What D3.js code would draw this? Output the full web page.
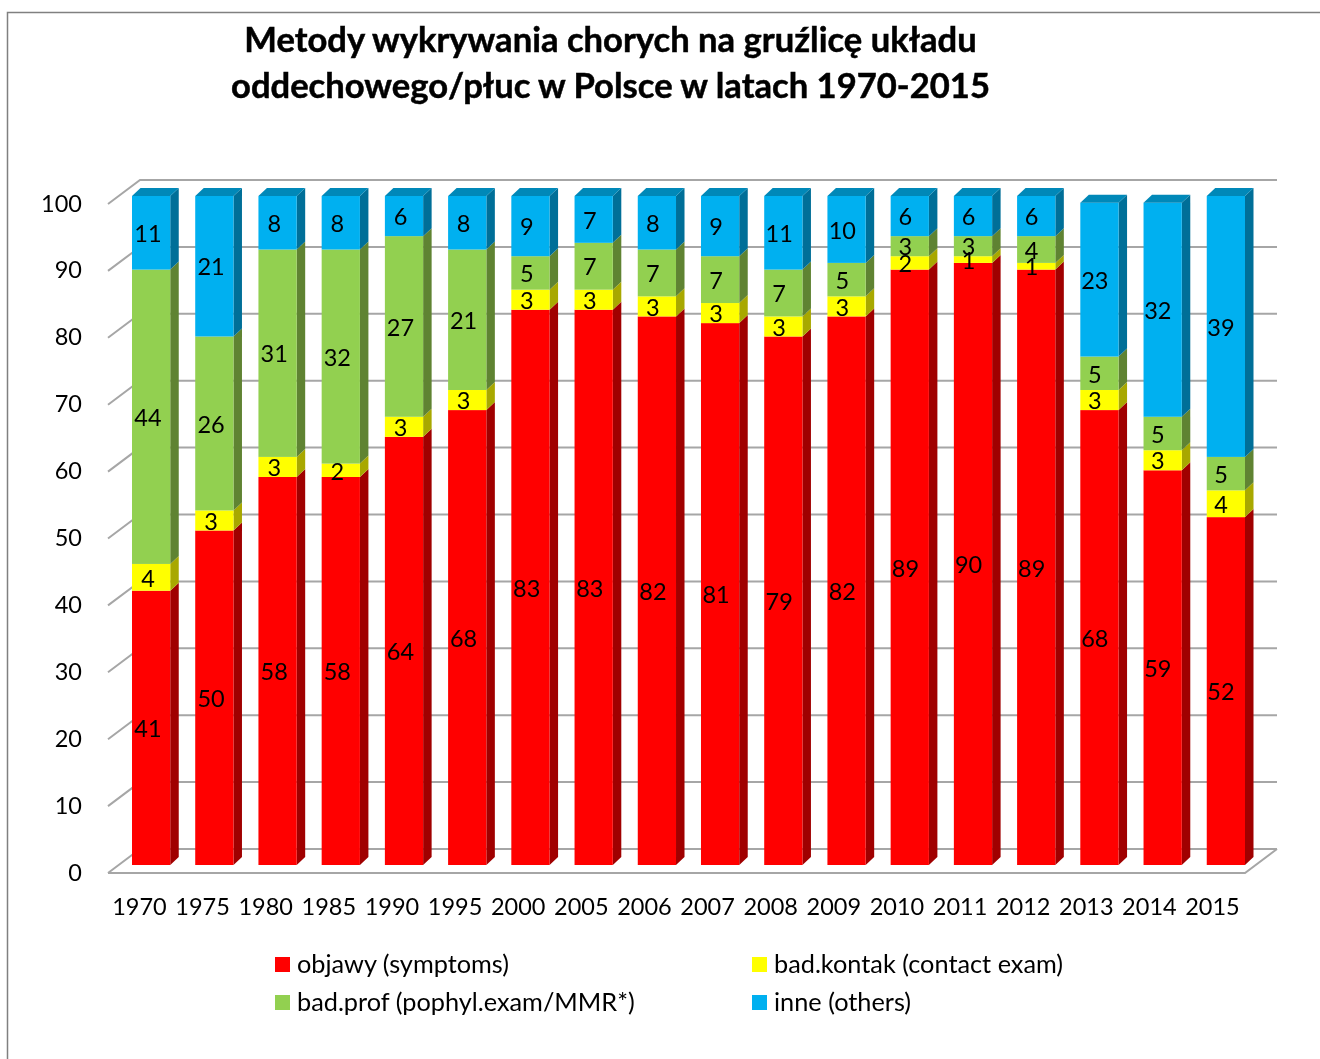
<!DOCTYPE html>
<html>
<head>
<meta charset="utf-8">
<script src="https://cdn.jsdelivr.net/npm/d3@7"></script>
<style>
  html, body { margin: 0; padding: 0; background: #fff; overflow: hidden; }
  svg { filter: blur(0.45px); }
  text { font-family: Lato, "Open Sans", sans-serif; fill: #000; }
</style>
</head>
<body>
<div id="chart"></div>
<script>
// Values
const years = ["1970", "1975", "1980", "1985", "1990", "1995", "2000", "2005", "2006", "2007", "2008", "2009", "2010", "2011", "2012", "2013", "2014", "2015"];
const objawy = [41, 50, 58, 58, 64, 68, 83, 83, 82, 81, 79, 82, 89, 90, 89, 68, 59, 52];
const kontakt = [4, 3, 3, 2, 3, 3, 3, 3, 3, 3, 3, 3, 2, 1, 1, 3, 3, 4];
const prof = [44, 26, 31, 32, 27, 21, 5, 7, 7, 7, 7, 5, 3, 3, 4, 5, 5, 5];
const inne = [11, 21, 8, 8, 6, 8, 9, 7, 8, 9, 11, 10, 6, 6, 6, 23, 32, 39];
const seriesKeys = ["objawy", "kontakt", "prof", "inne"];
const seriesNames = ["objawy (symptoms)", "bad.kontak (contact exam)", "bad.prof (pophyl.exam/MMR*)", "inne (others)"];
const yTicks = [0, 10, 20, 30, 40, 50, 60, 70, 80, 90, 100];
const titleLines = ["Metody wykrywania chorych na gruźlicę układu", "oddechowego/płuc w Polsce w latach 1970-2015"];

const width = 1320, height = 1059;

// front, side and top colours of each series
const colors = {
    objawy: { front: "#ff0000", side: "#a00000", top: "#c00000" },
    kontakt: { front: "#ffff00", side: "#a8a800", top: "#c8c800" },
    prof: { front: "#92d050", side: "#5f8332", top: "#74a53f" },
    inne: { front: "#00b0f0", side: "#006f98", top: "#0088b8" }
};

const rows = years.map((year, i) => ({
    year: year,
    objawy: objawy[i],
    kontakt: kontakt[i],
    prof: prof[i],
    inne: inne[i]
}));

const svg = d3.select("#chart").append("svg")
    .attr("width", width)
    .attr("height", height);

// Frame of the pasted chart, only top and left are in the picture
svg.append("path")
    .attr("d", d3.line()([[7.5, height], [7.5, 12.5], [width, 12.5]]))
    .attr("fill", "none")
    .attr("stroke", "#808080")
    .attr("stroke-width", 1.5);

// Scales for the front plane of the bars
const x = d3.scaleBand()
    .domain(years)
    .range([132, 1245])
    .paddingInner(0.395)
    .paddingOuter(0);

const y = d3.scaleLinear()
    .domain([0, 100])
    .range([865, 196]);

// Fake 3D offsets
const barDepth = { dx: 8.5, dy: -8 };
const wall = { dx: 8, dy: -16 };
const floor = { dx: -24, dy: 8 };

// Back wall gridlines and the slanted bit on the left
const grid = svg.append("g")
    .attr("fill", "none")
    .attr("stroke", "#a6a6a6")
    .attr("stroke-width", 2);

grid.selectAll("path.wall")
    .data(yTicks)
    .join("path")
    .attr("class", "wall")
    .attr("d", d => d3.line()([
        [x.range()[0] + floor.dx, y(d) + floor.dy],
        [x.range()[0] + wall.dx, y(d) + wall.dy],
        [x.range()[1] + wall.dx + 24, y(d) + wall.dy]
    ]));

// Floor
grid.append("path")
    .attr("d", d3.line()([
        [x.range()[0] + floor.dx, y(0) + floor.dy],
        [x.range()[1], y(0) + floor.dy],
        [x.range()[1] + wall.dx + 24, y(0) + wall.dy]
    ]));

// Stacked bars
const stacked = d3.stack().keys(seriesKeys)(rows);

const bars = svg.append("g").attr("class", "bars");

const layers = bars.selectAll("g")
    .data(stacked)
    .join("g");

// side faces
layers.selectAll("path.side")
    .data(s => s.map(d => ({ key: s.key, d: d })))
    .join("path")
    .attr("class", "side")
    .attr("fill", p => colors[p.key].side)
    .attr("d", p => {
        const right = x(p.d.data.year) + x.bandwidth();
        return d3.line()([
            [right, y(p.d[0])],
            [right + barDepth.dx, y(p.d[0]) + barDepth.dy],
            [right + barDepth.dx, y(p.d[1]) + barDepth.dy],
            [right, y(p.d[1])]
        ]) + "Z";
    });

// front faces
layers.selectAll("rect")
    .data(s => s.map(d => ({ key: s.key, d: d })))
    .join("rect")
    .attr("x", p => x(p.d.data.year))
    .attr("y", p => y(p.d[1]))
    .attr("width", x.bandwidth())
    .attr("height", p => y(p.d[0]) - y(p.d[1]))
    .attr("fill", p => colors[p.key].front);

// top face only on the last series
bars.append("g")
    .selectAll("path")
    .data(stacked[stacked.length - 1])
    .join("path")
    .attr("fill", colors.inne.top)
    .attr("d", d => {
        const left = x(d.data.year);
        return d3.line()([
            [left, y(d[1])],
            [left + barDepth.dx, y(d[1]) + barDepth.dy],
            [left + x.bandwidth() + barDepth.dx, y(d[1]) + barDepth.dy],
            [left + x.bandwidth(), y(d[1])]
        ]) + "Z";
    });

// Data labels, they sit a little left of the bar centre
const xLabel = d3.scalePoint()
    .domain(years)
    .range([148, 1221]);

const labels = svg.append("g").attr("class", "data-labels")
    .attr("text-anchor", "middle")
    .style("font-size", "23.5px");

stacked.forEach(s => {
    labels.selectAll("text." + s.key)
        .data(s)
        .join("text")
        .attr("class", s.key)
        .attr("x", d => xLabel(d.data.year))
        .attr("y", d => y((d[0] + d[1]) / 2) + 1)
        .attr("dy", "0.35em")
        .text(d => d[1] - d[0]);
});

// Axes
const yAxis = svg.append("g")
    .attr("transform", "translate(82,7.5)")
    .call(d3.axisLeft(y).tickValues(yTicks).tickSize(0).tickPadding(0));

const xTick = d3.scalePoint()
    .domain(years)
    .range([139, 1212]);

const xAxis = svg.append("g")
    .attr("transform", "translate(0,898)")
    .call(d3.axisBottom(xTick).tickSize(0).tickPadding(0));

[yAxis, xAxis].forEach(a => {
    a.select(".domain").remove();
    a.selectAll("text")
        .style("font-size", "23.5px")
        .style("font-family", "Lato, 'Open Sans', sans-serif")
        .style("fill", "#000");
});

// Title
svg.append("g")
    .selectAll("text")
    .data(titleLines)
    .join("text")
    .attr("x", 610.5)
    .attr("y", (d, i) => 52 + i * 46)
    .attr("text-anchor", "middle")
    .style("font-size", "34.6px")
    .style("font-weight", "700")
    .style("stroke", "#000")
    .style("stroke-width", 0.5)
    .text(d => d);

// Legend, two rows of two
const legendX = [275, 752];
const legendY = [964, 1002];

const legend = svg.append("g")
    .selectAll("g")
    .data(seriesKeys)
    .join("g")
    .attr("transform", (d, i) => `translate(${legendX[i % 2]},${legendY[Math.floor(i / 2)]})`);

legend.append("rect")
    .attr("y", -7)
    .attr("width", 15)
    .attr("height", 15)
    .attr("fill", d => colors[d].front);

legend.append("text")
    .attr("x", 22)
    .attr("dy", "0.35em")
    .style("font-size", "25.3px")
    .text((d, i) => seriesNames[i]);
</script>
</body>
</html>
